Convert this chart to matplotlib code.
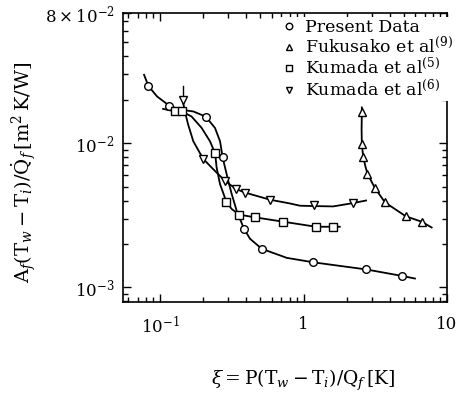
import matplotlib
matplotlib.use("Agg")
import matplotlib.pyplot as plt
from matplotlib.ticker import FixedLocator, LogLocator, NullFormatter, FixedFormatter

plt.rcParams['font.family'] = ['DejaVu Serif']
plt.rcParams['mathtext.fontset'] = 'dejavuserif'

# marker positions
present_x = [0.083, 0.116, 0.208, 0.273, 0.385, 0.511, 1.17, 2.73, 4.83]
present_y = [0.0249, 0.0182, 0.0153, 0.0080, 0.00254, 0.00185, 0.00149, 0.00133, 0.00120]

fuku_x = [2.55, 2.55, 2.61, 2.79, 3.15, 3.70, 5.16, 6.66]
fuku_y = [0.0164, 0.0098, 0.0080, 0.00614, 0.00487, 0.00388, 0.00311, 0.00285]

kum5_x = [0.127, 0.142, 0.242, 0.290, 0.357, 0.456, 0.723, 1.22, 1.60]
kum5_y = [0.0168, 0.0166, 0.0085, 0.00392, 0.00319, 0.00306, 0.00285, 0.00263, 0.00263]

kum6_x = [0.1435, 0.1995, 0.284, 0.339, 0.391, 0.585, 1.19, 2.22]
kum6_y = [0.0200, 0.0078, 0.00547, 0.00480, 0.00454, 0.00405, 0.00371, 0.00384]

# hand-drawn curve paths
present_cx = [0.0774, 0.083, 0.0953, 0.116, 0.138, 0.1706, 0.208, 0.2415, 0.262, 0.273,
              0.284, 0.299, 0.316, 0.342, 0.385, 0.424, 0.511, 0.764, 1.17, 2.73, 4.83, 5.98]
present_cy = [0.0298, 0.0249, 0.0211, 0.0182, 0.0171, 0.0166, 0.0153, 0.01276, 0.0103, 0.0080,
              0.00676, 0.00547, 0.00443, 0.0034, 0.00254, 0.00217, 0.00185, 0.0016, 0.00149,
              0.00133, 0.00120, 0.00115]

fuku_cx = [2.55, 2.55, 2.54, 2.55, 2.61, 2.70, 2.79, 3.15, 3.70, 5.16, 6.66, 7.82]
fuku_cy = [0.0177, 0.0164, 0.0125, 0.0098, 0.0080, 0.0069, 0.00614, 0.00487, 0.00388, 0.00311,
           0.00285, 0.0026]

kum5_cx = [0.105, 0.127, 0.142, 0.166, 0.195, 0.223, 0.242, 0.248, 0.262, 0.290, 0.316, 0.357,
           0.456, 0.723, 1.22, 1.60, 1.79]
kum5_cy = [0.0173, 0.0166, 0.0166, 0.0153, 0.01276, 0.0103, 0.0085, 0.00676, 0.00519, 0.00392,
           0.00349, 0.00319, 0.00306, 0.00285, 0.00263, 0.00263, 0.00263]

kum6_cx = [0.1435, 0.149, 0.157, 0.1706, 0.1995, 0.235, 0.284, 0.339, 0.391, 0.585, 0.80, 0.946,
           1.19, 1.61, 2.22, 2.73]
kum6_cy = [0.0200, 0.0166, 0.01345, 0.0103, 0.0078, 0.00659, 0.00547, 0.00480, 0.00454, 0.00405,
           0.00382, 0.00368, 0.00366, 0.00364, 0.00384, 0.0040]

arrow_x = [0.1435, 0.1435]
arrow_y = [0.0250, 0.0205]

legend_labels = ["Present Data", r"Fukusako et al$^{(9)}$",
                 r"Kumada et al$^{(5)}$", r"Kumada et al$^{(6)}$"]

fig = plt.figure(figsize=(4.63, 3.95), dpi=100)
ax = fig.add_axes([0.2657, 0.2354, 0.6997, 0.7316])

lw = 1.3
mk = dict(markerfacecolor='white', markeredgecolor='black', markeredgewidth=1.0,
          linestyle='none', markersize=5.5, zorder=3)

ax.plot(present_cx, present_cy, color='black', lw=lw)
ax.plot(fuku_cx, fuku_cy, color='black', lw=lw)
ax.plot(kum5_cx, kum5_cy, color='black', lw=lw)
ax.plot(kum6_cx, kum6_cy, color='black', lw=lw)
ax.plot(arrow_x, arrow_y, color='black', lw=1.0)

h1, = ax.plot(present_x, present_y, marker='o', **mk)
h2, = ax.plot(fuku_x, fuku_y, marker='^', **mk)
h3, = ax.plot(kum5_x, kum5_y, marker='s', **mk)
h4, = ax.plot(kum6_x, kum6_y, marker='v', **mk)

ax.set_xscale('log')
ax.set_yscale('log')
ax.set_xlim(0.0552, 10)
ax.set_ylim(7.9e-4, 0.08)

ax.xaxis.set_major_locator(FixedLocator([0.1, 1, 10]))
ax.xaxis.set_major_formatter(FixedFormatter([r"$10^{-1}$", "1", "10"]))
ax.xaxis.set_minor_locator(LogLocator(base=10, subs=range(2, 10)))
ax.xaxis.set_minor_formatter(NullFormatter())
ax.yaxis.set_major_locator(FixedLocator([1e-3, 1e-2, 0.08]))
ax.yaxis.set_major_formatter(FixedFormatter([r"$10^{-3}$", r"$10^{-2}$", r"$8\times10^{-2}$"]))
ax.yaxis.set_minor_locator(LogLocator(base=10, subs=range(2, 10)))
ax.yaxis.set_minor_formatter(NullFormatter())

ax.tick_params(which='both', direction='in', top=True, right=True, width=1.0)
ax.tick_params(which='major', length=6, labelsize=12)
ax.tick_params(which='minor', length=3.5)
ax.tick_params(axis='x', which='major', pad=10)
ax.tick_params(axis='y', which='major', pad=6)
for s in ax.spines.values():
    s.set_linewidth(1.2)

leg = ax.legend([h1, h2, h3, h4], legend_labels, loc='upper left',
                bbox_to_anchor=(0.48, 0.985), frameon=True, fontsize=12.5,
                handletextpad=0.4, labelspacing=0.0, borderpad=0.1,
                handlelength=1.0, borderaxespad=0.0, markerscale=0.85)
leg.get_frame().set_edgecolor('none')
leg.get_frame().set_facecolor('white')
leg.get_frame().set_alpha(1.0)
leg.set_zorder(5)

fig.text(0.05, 0.565,
         r"$\mathrm{A}_f(\mathrm{T}_w-\mathrm{T}_i)/\dot{\mathrm{Q}}_f\,[\mathrm{m}^2\,\mathrm{K/W}]$",
         rotation=90, ha='center', va='center', fontsize=14)
fig.text(0.655, 0.038,
         r"$\xi=\mathrm{P}(\mathrm{T}_w-\mathrm{T}_i)/\mathrm{Q}_f\,[\mathrm{K}]$",
         ha='center', va='center', fontsize=13.5)

fig.savefig("out.png", dpi=100)
